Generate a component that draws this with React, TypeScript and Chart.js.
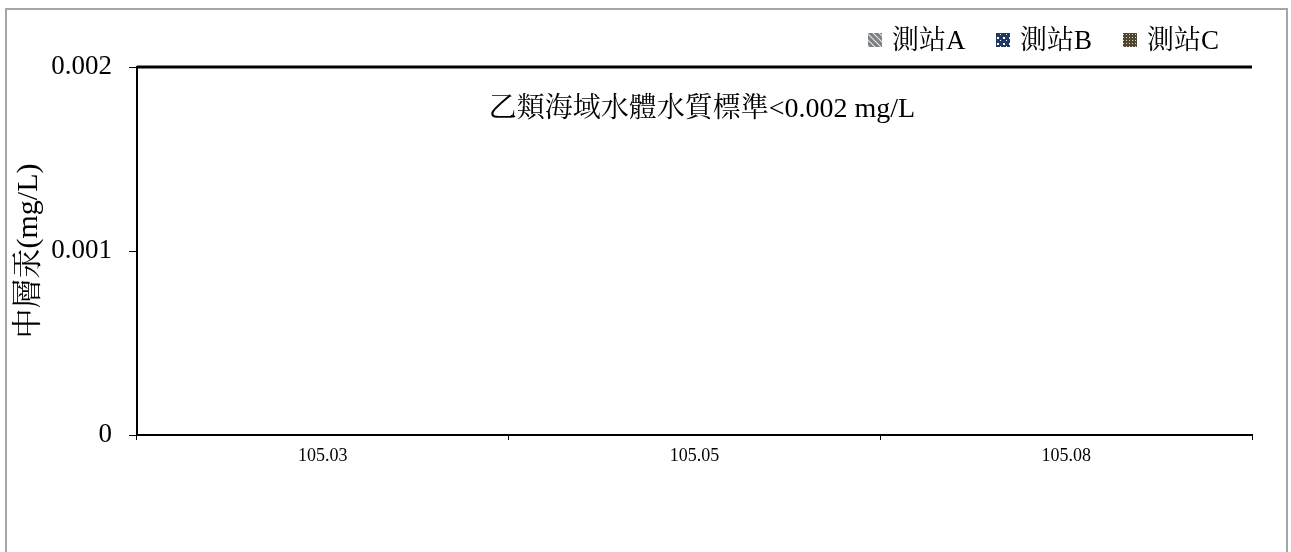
import React, { useEffect, useRef } from "react";
import { Chart, registerables } from "chart.js";

Chart.register(...registerables);

const categories = ["105.03", "105.05", "105.08"];
const stationA = [0, 0, 0];
const stationB = [0, 0, 0];
const stationC = [0, 0, 0];
const seriesLabels = ["測站A", "測站B", "測站C"];
const yTicks = [0, 0.001, 0.002];
const STANDARD = 0.002;
const standardText = "乙類海域水體水質標準<0.002 mg/L";
const yTitle = "中層汞(mg/L)";

const FONT = "'Liberation Serif', 'Times New Roman', 'Noto Serif CJK TC', 'Noto Sans CJK TC', serif";

function makePattern(kind: string): CanvasPattern | string {
  const c = document.createElement("canvas");
  c.width = 6;
  c.height = 6;
  const g = c.getContext("2d");
  if (!g) return "#808080";
  if (kind === "A") {
    g.fillStyle = "#7f7f7f";
    g.fillRect(0, 0, 6, 6);
    g.strokeStyle = "#dfe8f5";
    g.lineWidth = 1.2;
    g.beginPath();
    g.moveTo(0, 0);
    g.lineTo(6, 6);
    g.moveTo(-3, 3);
    g.lineTo(3, 9);
    g.moveTo(3, -3);
    g.lineTo(9, 3);
    g.stroke();
  } else if (kind === "B") {
    g.fillStyle = "#1f3864";
    g.fillRect(0, 0, 6, 6);
    g.fillStyle = "#ffffff";
    g.fillRect(1, 1, 2, 2);
    g.fillRect(4, 4, 1, 1);
  } else {
    g.fillStyle = "#4f4630";
    g.fillRect(0, 0, 6, 6);
    g.fillStyle = "#d8d2c0";
    g.fillRect(1, 1, 1, 1);
    g.fillRect(4, 1, 1, 1);
    g.fillRect(1, 4, 1, 1);
    g.fillRect(4, 4, 1, 1);
  }
  const ctx = document.createElement("canvas").getContext("2d");
  const p = ctx ? ctx.createPattern(c, "repeat") : null;
  return p || "#808080";
}

export default function App() {
  const ref = useRef<HTMLCanvasElement | null>(null);

  useEffect(() => {
    if (!ref.current) return;
    const patA = makePattern("A");
    const patB = makePattern("B");
    const patC = makePattern("C");

    const decorPlugin = {
      id: "decor",
      beforeDraw(chart: any) {
        const { ctx } = chart;
        ctx.save();
        ctx.fillStyle = "#ffffff";
        ctx.fillRect(0, 0, chart.width, chart.height);
        ctx.strokeStyle = "#a6a6a6";
        ctx.lineWidth = 2;
        ctx.strokeRect(6, 9, 1281, 560);
        ctx.restore();
      },
      afterDraw(chart: any) {
        const { ctx, chartArea, scales } = chart;
        ctx.save();
        // standard line
        const y = scales.y.getPixelForValue(STANDARD);
        ctx.strokeStyle = "#000000";
        ctx.lineWidth = 3;
        ctx.beginPath();
        ctx.moveTo(chartArea.left, y);
        ctx.lineTo(chartArea.right, y);
        ctx.stroke();
        // annotation text
        ctx.fillStyle = "#000000";
        ctx.font = `28px ${FONT}`;
        ctx.textAlign = "center";
        ctx.textBaseline = "middle";
        ctx.fillText(standardText, 702, 110);
        // legend
        const boxX = [868, 996, 1123];
        chart.data.datasets.forEach((ds: any, i: number) => {
          const bx = boxX[i];
          ctx.fillStyle = ds.backgroundColor;
          ctx.fillRect(bx, 33, 14, 14);
          ctx.fillStyle = "#000000";
          ctx.textAlign = "left";
          ctx.font = `27px ${FONT}`;
          ctx.fillText(ds.label, bx + 24, 42);
        });
        ctx.restore();
      },
    };

    const chart = new Chart(ref.current, {
      type: "bar",
      data: {
        labels: categories,
        datasets: [
          { label: seriesLabels[0], data: stationA, backgroundColor: patA as any, borderWidth: 0 },
          { label: seriesLabels[1], data: stationB, backgroundColor: patB as any, borderWidth: 0 },
          { label: seriesLabels[2], data: stationC, backgroundColor: patC as any, borderWidth: 0 },
        ],
      },
      options: {
        responsive: false,
        animation: false,
        layout: { padding: { top: 67, right: 39, left: 0, bottom: 0 } },
        plugins: {
          legend: { display: false },
          tooltip: { enabled: false },
        },
        scales: {
          x: {
            offset: true,
            grid: {
              offset: true,
              drawOnChartArea: false,
              drawTicks: true,
              tickLength: 5,
              color: "#000000",
              lineWidth: 1,
            },
            border: { display: true, color: "#000000", width: 2 },
            ticks: {
              color: "#000000",
              font: { family: FONT, size: 18 },
              padding: 5,
              maxRotation: 0,
            },
            afterFit(scale: any) {
              scale.height = 117;
            },
          },
          y: {
            min: 0,
            max: 0.002,
            afterBuildTicks(scale: any) {
              scale.ticks = yTicks.map((v) => ({ value: v }));
            },
            grid: {
              drawOnChartArea: false,
              drawTicks: true,
              tickLength: 8,
              color: "#000000",
              lineWidth: 1,
            },
            border: { display: true, color: "#000000", width: 2 },
            ticks: {
              color: "#000000",
              font: { family: FONT, size: 27 },
              padding: 17,
              callback: (v: any) => String(Number(v)),
            },
            title: {
              display: true,
              text: yTitle,
              color: "#000000",
              font: { family: FONT, size: 30 },
              padding: { top: 11, bottom: 0 },
            },
            afterFit(scale: any) {
              scale.width = 137;
            },
          },
        },
      },
      plugins: [decorPlugin],
    });
    return () => chart.destroy();
  }, []);

  return (
    <div style={{ position: "fixed", left: 0, top: 0, width: 1291, height: 552, background: "#fff" }}>
      <canvas ref={ref} width={1291} height={552} style={{ display: "block", width: 1291, height: 552 }} />
    </div>
  );
}
